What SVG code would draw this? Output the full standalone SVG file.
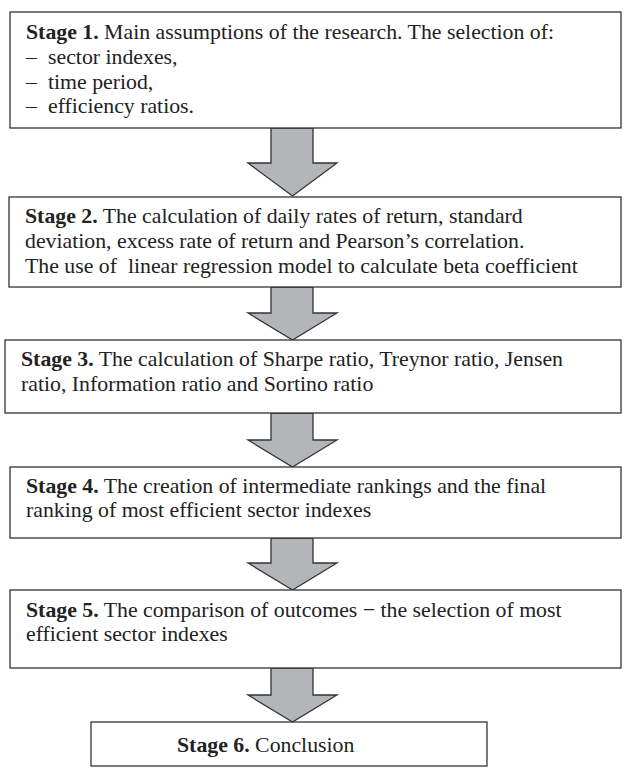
<svg xmlns="http://www.w3.org/2000/svg" width="624" height="768" viewBox="0 0 624 768">
<defs>
<style>
.box{fill:#fff;stroke:#333;stroke-width:1.3}
.arr{fill:#b4b5b8;stroke:#333;stroke-width:1.3;stroke-linejoin:miter}
text{font-family:"Liberation Serif","Times New Roman",serif;font-size:21.8px;fill:#222}
.b{font-weight:bold}
</style>
</defs>
<rect width="624" height="768" fill="#fff"/>
<g id="connectors">
<polygon class="arr" points="271,128 313,128 313,163 337,163 292.5,196 248,163 271,163"/>
<polygon class="arr" points="271,287 313,287 313,313 337,313 292.5,340 248,313 271,313"/>
<polygon class="arr" points="271,413 313,413 313,440 337,440 292.5,467 248,440 271,440"/>
<polygon class="arr" points="271,538 313,538 313,563 337,563 292.5,590 248,563 271,563"/>
<polygon class="arr" points="271,668 313,668 313,695 337,695 292.5,722 248,695 271,695"/>
</g>
<g id="stage1">
<rect class="box" x="10" y="12" width="611" height="116"/>
<text x="26" y="39"><tspan class="b">Stage 1.</tspan> Main assumptions of the research. The selection of:</text>
<text x="26" y="64">–</text><text x="48" y="64">sector indexes,</text>
<text x="26" y="89">–</text><text x="48" y="89">time period,</text>
<text x="26" y="113">–</text><text x="48" y="113">efficiency ratios.</text>
</g>
<g id="stage2">
<rect class="box" x="9" y="197" width="612" height="90"/>
<text x="25" y="223"><tspan class="b">Stage 2.</tspan> The calculation of daily rates of return, standard</text>
<text x="25" y="248">deviation, excess rate of return and Pearson’s correlation.</text>
<text x="25" y="273" xml:space="preserve">The use of  linear regression model to calculate beta coefficient</text>
</g>
<g id="stage3">
<rect class="box" x="5" y="340" width="616" height="73"/>
<text x="21" y="366"><tspan class="b">Stage 3.</tspan> The calculation of Sharpe ratio, Treynor ratio, Jensen</text>
<text x="21" y="391">ratio, Information ratio and Sortino ratio</text>
</g>
<g id="stage4">
<rect class="box" x="10" y="467" width="611" height="71"/>
<text x="26" y="493"><tspan class="b">Stage 4.</tspan> The creation of intermediate rankings and the final</text>
<text x="26" y="517">ranking of most efficient sector indexes</text>
</g>
<g id="stage5">
<rect class="box" x="10" y="590" width="611" height="78"/>
<text x="26" y="617"><tspan class="b">Stage 5.</tspan> The comparison of outcomes − the selection of most</text>
<text x="26" y="641">efficient sector indexes</text>
</g>
<g id="stage6">
<rect class="box" x="91" y="722" width="396" height="44"/>
<text x="177" y="752"><tspan class="b">Stage 6.</tspan> Conclusion</text>
</g>
</svg>
